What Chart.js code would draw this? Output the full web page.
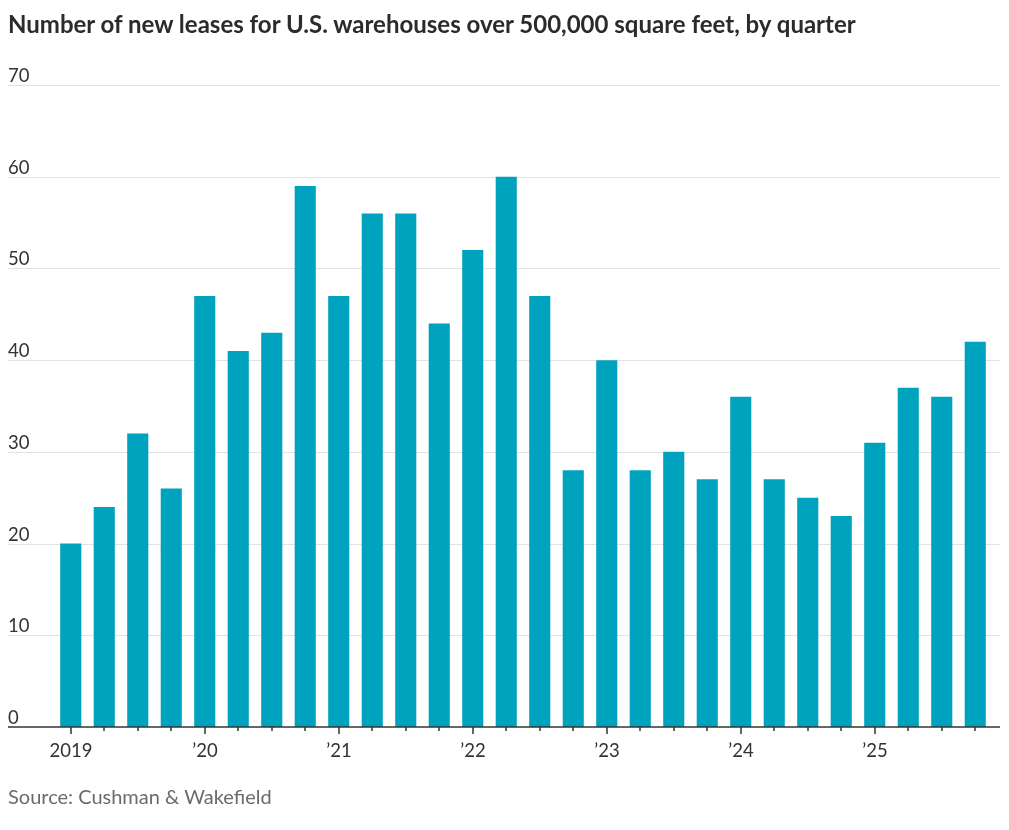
<!DOCTYPE html>
<html>
<head>
<meta charset="utf-8">
<script src="https://cdn.jsdelivr.net/npm/chart.js@4.4.1/dist/chart.umd.min.js"></script>
<style>
  body { margin: 0; background: #fff; }
  #wrap { position: relative; width: 1009px; height: 830px; }
  #title { position: absolute; left: 8px; top: 9px; font-family: Lato, sans-serif; font-weight: 700; font-size: 24px; color: #2b2b2b; white-space: nowrap; }
  #source { position: absolute; left: 8px; top: 784px; font-family: Lato, sans-serif; font-size: 20px; color: #6b6b6b; white-space: nowrap; }
  canvas { position: absolute; left: 0; top: 0; }
</style>
</head>
<body>
<div id="wrap">
  <canvas id="chart" width="1009" height="830"></canvas>
  <div id="title">Number of new leases for U.S. warehouses over 500,000 square feet, by quarter</div>
  <div id="source">Source: Cushman &amp; Wakefield</div>
</div>
<script>
const quarters = [
  "2019 Q1", "2019 Q2", "2019 Q3", "2019 Q4",
  "2020 Q1", "2020 Q2", "2020 Q3", "2020 Q4",
  "2021 Q1", "2021 Q2", "2021 Q3", "2021 Q4",
  "2022 Q1", "2022 Q2", "2022 Q3", "2022 Q4",
  "2023 Q1", "2023 Q2", "2023 Q3", "2023 Q4",
  "2024 Q1", "2024 Q2", "2024 Q3", "2024 Q4",
  "2025 Q1", "2025 Q2", "2025 Q3", "2025 Q4"
];
const leases = [20, 24, 32, 26, 47, 41, 43, 59, 47, 56, 56, 44, 52, 60, 47, 28, 40, 28, 30, 27, 36, 27, 25, 23, 31, 37, 36, 42];
const yearLabels = ["2019", "\u201920", "\u201921", "\u201922", "\u201923", "\u201924", "\u201925"];
const yTicks = [0, 10, 20, 30, 40, 50, 60, 70];

// gridlines, axis, tick marks and labels drawn from the scales
const axesPlugin = {
  id: "axesPlugin",
  beforeDatasetsDraw(chart) {
    const { ctx, scales: { x, y } } = chart;
    const left = 8, right = 1000;
    ctx.save();
    ctx.font = "18.5px Lato, sans-serif";
    ctx.textAlign = "left";
    ctx.textBaseline = "alphabetic";
    yTicks.forEach(v => {
      const py = Math.round(y.getPixelForValue(v)) + 0.5;
      if (v > 0) {
        ctx.strokeStyle = "#e2e2e2";
        ctx.lineWidth = 1;
        ctx.beginPath();
        ctx.moveTo(left, py);
        ctx.lineTo(right, py);
        ctx.stroke();
      }
      ctx.fillStyle = "#333";
      ctx.fillText(String(v), left, py - 4);
    });
    ctx.restore();
  },
  afterDatasetsDraw(chart) {
    const { ctx, scales: { x, y } } = chart;
    const left = 8, right = 1000;
    const base = y.getPixelForValue(0);
    ctx.save();
    ctx.strokeStyle = "#333";
    ctx.lineWidth = 1.5;
    ctx.beginPath();
    ctx.moveTo(left, base);
    ctx.lineTo(right, base);
    ctx.stroke();
    ctx.font = "18.5px Lato, sans-serif";
    ctx.textAlign = "center";
    ctx.textBaseline = "middle";
    ctx.fillStyle = "#333";
    quarters.forEach((q, i) => {
      const px = Math.round(x.getPixelForValue(i));
      const major = i % 4 === 0;
      ctx.lineWidth = 1.5;
      ctx.beginPath();
      ctx.moveTo(px, base);
      ctx.lineTo(px, base + (major ? 7 : 4));
      ctx.stroke();
      if (major) ctx.fillText(yearLabels[i / 4], px, base + 24);
    });
    ctx.restore();
  }
};

new Chart(document.getElementById("chart"), {
  type: "bar",
  data: {
    labels: quarters,
    datasets: [{
      data: leases,
      backgroundColor: "#00a3bd",
      barPercentage: 0.63,
      categoryPercentage: 1.0
    }]
  },
  options: {
    responsive: false,
    animation: false,
    layout: { padding: { left: 54, right: 17, top: 85, bottom: 103 } },
    plugins: { legend: { display: false }, tooltip: { enabled: false } },
    scales: {
      x: { display: false, offset: true },
      y: { display: false, min: 0, max: 70 }
    }
  },
  plugins: [axesPlugin]
});
</script>
</body>
</html>
